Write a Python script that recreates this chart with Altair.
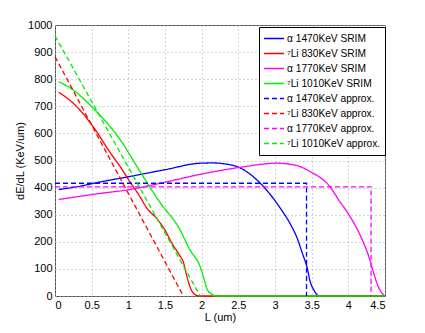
import altair as alt
import pandas as pd

# ---- data ----
L_a1470 = [0.05, 0.3, 0.6, 1.0, 1.5, 1.98, 2.15, 2.3, 2.53, 2.8, 3.07, 3.21, 3.3, 3.37, 3.44, 3.48, 3.53, 3.6, 4.5]
dE_a1470 = [393, 403, 420, 440, 466, 490, 491, 488, 472, 416, 325, 265, 215, 160, 102, 53, 22, 0, 0]

L_li830 = [0.05, 0.25, 0.52, 0.75, 0.89, 1.02, 1.16, 1.25, 1.39, 1.5, 1.6, 1.7, 1.75, 1.8, 1.85, 1.9, 1.95, 2.0, 4.5]
dE_li830 = [752, 711, 625, 530, 477, 422, 366, 325, 285, 243, 192, 150, 125, 71, 28, 7, 1, 0, 0]

L_a1770 = [0.05, 0.6, 1.0, 1.5, 2.0, 2.53, 3.03, 3.3, 3.48, 3.75, 3.87, 4.01, 4.17, 4.28, 4.34, 4.39, 4.46, 4.5]
dE_a1770 = [356, 378, 392, 420, 450, 475, 490, 481, 459, 403, 354, 299, 219, 145, 90, 47, 10, 0]

L_li1010 = [0.05, 0.25, 0.52, 0.77, 0.89, 1.16, 1.41, 1.5, 1.6, 1.68, 1.84, 1.98, 2.03, 2.07, 2.14, 2.2, 4.5]
dE_li1010 = [791, 760, 693, 619, 576, 459, 354, 320, 288, 256, 170, 108, 65, 28, 6, 0, 0]

L_a1470_ap = [0, 3.43, 3.43]
dE_a1470_ap = [416, 416, 0]
L_li830_ap = [0, 1.75]
dE_li830_ap = [883, 0]
L_a1770_ap = [0, 4.31, 4.31]
dE_a1770_ap = [403, 403, 0]
L_li1010_ap = [0, 1.98]
dE_li1010_ap = [960, 0]

labels = ["α 1470KeV SRIM", "⁷Li 830KeV SRIM", "α 1770KeV SRIM", "⁷Li 1010KeV SRIM",
          "α 1470KeV approx.", "⁷Li 830KeV approx.", "α 1770KeV approx.", "⁷Li 1010KeV approx."]
colors = ["#0000ff", "#ff0000", "#ff00ff", "#00ee00", "#0000ff", "#ff0000", "#ff00ff", "#00ee00"]
dashes = [[1, 0], [1, 0], [1, 0], [1, 0], [5, 3], [5, 3], [5, 3], [5, 3]]

series = [(L_a1470, dE_a1470), (L_li830, dE_li830), (L_a1770, dE_a1770), (L_li1010, dE_li1010),
          (L_a1470_ap, dE_a1470_ap), (L_li830_ap, dE_li830_ap), (L_a1770_ap, dE_a1770_ap), (L_li1010_ap, dE_li1010_ap)]

rows = []
for k, (lab, (xs, ys)) in enumerate(zip(labels, series)):
    for i, (x, y) in enumerate(zip(xs, ys)):
        rows.append({"series": lab, "L": x, "dE": y, "idx": i, "k": k})
df = pd.DataFrame(rows)

FONT = "Liberation Sans"

chart = alt.Chart(df).mark_line(strokeWidth=1.3, interpolate="monotone").encode(
    x=alt.X("L:Q", scale=alt.Scale(domain=[0, 4.5], nice=False, zero=False),
            axis=alt.Axis(title="L (um)", values=[0, 0.5, 1, 1.5, 2, 2.5, 3, 3.5, 4, 4.5], format="~g")),
    y=alt.Y("dE:Q", scale=alt.Scale(domain=[0, 1000], nice=False),
            axis=alt.Axis(title="dE/dL (KeV/um)", values=list(range(0, 1001, 100)), format="d")),
    color=alt.Color("series:N", scale=alt.Scale(domain=labels, range=colors),
                    legend=alt.Legend(title=None, orient="none", legendX=204, legendY=2,
                                      symbolType="stroke", symbolSize=400, symbolStrokeWidth=1.5,
                                      labelFont=FONT, labelFontSize=10.2, labelColor="#000",
                                      strokeColor="#000", fillColor="#fff", padding=4,
                                      clipHeight=15, rowPadding=0, labelOffset=2, labelLimit=200)),
    strokeDash=alt.StrokeDash("series:N", scale=alt.Scale(domain=labels, range=dashes), legend=None),
    detail="series:N",
    order="idx:Q",
).properties(
    width=330, height=271,
    autosize=alt.AutoSizeParams(type="none"),
    padding={"left": 47, "top": 17, "right": 30, "bottom": 30},
).configure_view(
    stroke="#555", strokeWidth=1
).configure_axis(
    labelFont=FONT, titleFont=FONT, labelFontSize=11, titleFontSize=11,
    labelColor="#000", titleColor="#000", titleFontWeight="normal",
    grid=True, gridDash=[1, 3], gridColor="#aaa", gridOpacity=1,
    domain=False, ticks=False, labelPadding=3
).configure_axisY(
    titlePadding=2
).configure_axisX(
    titlePadding=1
)

chart.save("out.html", embed_options={"renderer": "svg", "actions": False})
